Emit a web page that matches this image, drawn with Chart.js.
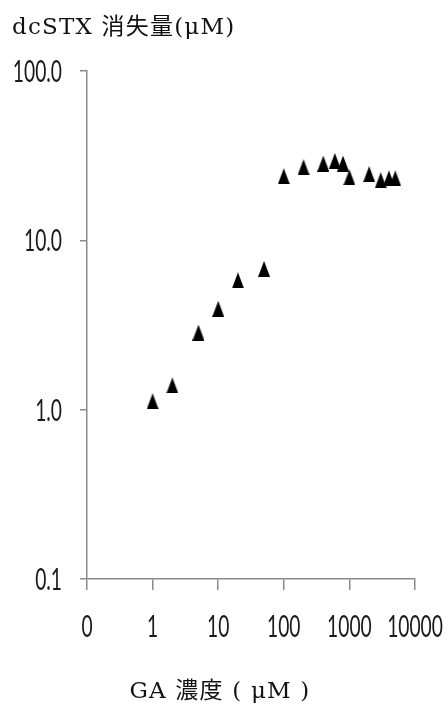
<!DOCTYPE html>
<html>
<head>
<meta charset="utf-8">
<script src="https://cdn.jsdelivr.net/npm/chart.js@4.4.0/dist/chart.umd.min.js"></script>
<style>
  html, body { margin: 0; padding: 0; background: #fff; }
  #wrap { width: 448px; height: 705px; }
</style>
</head>
<body>
<div id="wrap"><canvas id="chart" width="448" height="705"></canvas></div>
<script>
const yTitle = "dcSTX 消失量(μM)";
const xTitle = "GA 濃度 ( μM )";

// GA concentration (uM) vs dcSTX loss (uM)
const gaConc = [1, 2, 5, 10, 20, 50, 100, 200, 400, 600, 800, 1000, 2000, 3000, 4000, 5000];
const dcstxLoss = [1.12, 1.39, 2.85, 3.94, 5.8, 6.78, 23.9, 27.0, 28.4, 29.4, 28.4, 23.5, 24.6, 22.6, 23.2, 23.2];

const xTicks = [0.1, 1, 10, 100, 1000, 10000];
const xTickLabels = ["0", "1", "10", "100", "1000", "10000"];
const yTicks = [0.1, 1, 10, 100];
const yTickLabels = ["0.1", "1.0", "10.0", "100.0"];

const axisGray = "#8a8a8a";
const tickFont = "400 31px Lato, 'Liberation Sans', sans-serif";
const squeeze = 0.62; // the original tick font is a very narrow one

// narrow black triangle marker
function makeTriangle(w, h){
  const c = document.createElement("canvas");
  c.width = w; c.height = h;
  const g = c.getContext("2d");
  g.fillStyle = "#000";
  g.beginPath();
  g.moveTo(w / 2, 0);
  g.lineTo(w, h);
  g.lineTo(0, h);
  g.closePath();
  g.fill();
  return c;
}
const triangle = makeTriangle(12, 16);

function narrowText(ctx, text, x, y, align){
  ctx.save();
  ctx.translate(x, y);
  ctx.scale(squeeze, 1);
  ctx.textAlign = align;
  ctx.fillText(text, 0, 0);
  ctx.restore();
}

// tick labels (placed from the scales) and the two axis titles
const labelsPlugin = {
  id: "labels",
  afterDraw(chart){
    const ctx = chart.ctx;
    const xs = chart.scales.x, ys = chart.scales.y;
    ctx.save();
    ctx.fillStyle = "#1a1a1a";
    ctx.font = tickFont;
    ctx.textBaseline = "alphabetic";
    xTicks.forEach((v, i) => narrowText(ctx, xTickLabels[i], xs.getPixelForValue(v), 637, "center"));
    yTicks.forEach((v, i) => narrowText(ctx, yTickLabels[i], 62, ys.getPixelForValue(v) + 11, "right"));

    ctx.fillStyle = "#111";
    ctx.font = "23px 'DejaVu Serif', 'Noto Sans CJK JP', serif";
    ctx.letterSpacing = "1.2px";
    ctx.textAlign = "left";
    ctx.fillText(yTitle, 12, 34);
    ctx.textAlign = "center";
    ctx.fillText(xTitle, 220, 698);
    ctx.restore();
  }
};

new Chart(document.getElementById("chart"), {
  type: "scatter",
  data: {
    datasets: [{
      data: gaConc.map((x, i) => ({ x, y: dcstxLoss[i] })),
      pointStyle: triangle,
      pointRadius: 8,
      pointHoverRadius: 8
    }]
  },
  options: {
    responsive: false,
    animation: false,
    layout: { padding: { top: 71, right: 33, left: 0, bottom: 0 } },
    plugins: { legend: { display: false }, tooltip: { enabled: false } },
    scales: {
      x: {
        type: "logarithmic",
        min: 0.1,
        max: 10000,
        afterBuildTicks: s => { s.ticks = xTicks.map(v => ({ value: v })); },
        afterFit: s => { s.height = 126; s.paddingLeft = 0; s.paddingRight = 0; },
        ticks: { display: false, autoSkip: false },
        grid: { drawOnChartArea: false, tickLength: 11, color: axisGray, lineWidth: 1.5 },
        border: { color: axisGray, width: 1.5 }
      },
      y: {
        type: "logarithmic",
        min: 0.1,
        max: 100,
        afterBuildTicks: s => { s.ticks = yTicks.map(v => ({ value: v })); },
        afterFit: s => { s.width = 87; s.paddingTop = 0; s.paddingBottom = 0; },
        ticks: { display: false, autoSkip: false },
        grid: { drawOnChartArea: false, tickLength: 7, color: axisGray, lineWidth: 1.5 },
        border: { color: axisGray, width: 1.5 }
      }
    }
  },
  plugins: [labelsPlugin]
});
</script>
</body>
</html>
